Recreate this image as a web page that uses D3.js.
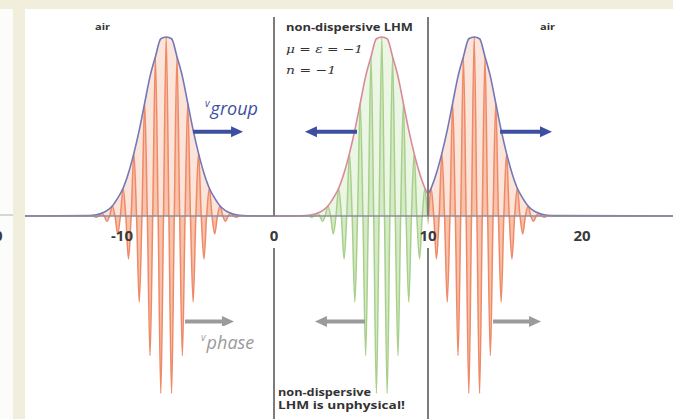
<!DOCTYPE html>
<html>
<head>
<meta charset="utf-8">
<script src="https://cdn.jsdelivr.net/npm/d3@7"></script>
<style>
  body { margin: 0; background: #f1eedb; }
  svg { display: block; }
</style>
</head>
<body>
<div id="vizContainer"></div>
<script>
let w = 673;
let h = 419;

// values
let tickValues = [-10, 0, 10, 20];
let packetCenters = [-7, 7, 13];
let packetRegions = [[-16.5, 0], [0, 10], [10, 26.5]];
let halfWave = 0.35; // distance between lobes, x units
// lobe height at 0, 1, 2 ... half-waves away from the packet centre
let lobeHeights = [1.00, 0.99, 0.89, 0.78, 0.63, 0.48, 0.35, 0.24, 0.155, 0.10, 0.056, 0.03, 0.015, 0.007, 0.003];
let boundaries = [0, 10];
let groupArrows = [[-5.26, -2.01], [5.39, 2.01], [14.68, 18.05]];
let groupLevel = 0.47;
let phaseArrows = [[-5.78, -2.6], [5.91, 2.66], [14.22, 17.34]];
let phaseLevel = -0.59;

// styles per packet
let waveStroke = ["#ef8a68", "#a8d08c", "#ef8a68"];
let waveFill = ["#f7c3ab", "#d5eac6", "#f7c3ab"];
let envStroke = ["#7478b8", "#d98a9a", "#7478b8"];

let viz = d3.select('#vizContainer').append('svg')
	.attr('width', w)
	.attr('height', h)
	;

// frame
viz.append('rect').attr('width', w).attr('height', h).attr('fill', '#f1eedb');
viz.append('rect').attr('x', 0).attr('y', 9).attr('width', 13).attr('height', h - 9).attr('fill', '#fcfcfb');
viz.append('rect').attr('x', 25).attr('y', 9).attr('width', w - 25).attr('height', h - 9).attr('fill', '#ffffff');
viz.append('line').attr('x1', 0).attr('x2', 13).attr('y1', 215).attr('y2', 215)
	.attr('stroke', '#c8c8d2').attr('stroke-width', 1.5);
// edge of the neighbouring panel's "0" label
viz.append('text').attr('x', -6).attr('y', 241).text('0')
	.attr('font-family', 'Open Sans').attr('font-weight', 'bold').attr('font-size', 15).attr('fill', '#3a3a3a');

let xScale = d3.scaleLinear().domain([-10, 20]).range([120, 582]);
let yScale = d3.scaleLinear().domain([-1, 1]).range([395, 37]);

let defs = viz.append('defs');
packetRegions.forEach(function(r, i){
	defs.append('clipPath').attr('id', 'clip' + i)
		.append('rect')
		.attr('x', Math.max(25, xScale(r[0])))
		.attr('y', 0)
		.attr('width', Math.min(w, xScale(r[1])) - Math.max(25, xScale(r[0])))
		.attr('height', h);
});

function wavePoints(c, r){
	let pts = [[r[0], 0]];
	let n = lobeHeights.length - 1;
	for (let k = -n; k <= n; k++){
		let a = lobeHeights[Math.abs(k)];
		let s = (Math.abs(k) % 2 == 0) ? 1 : -1;
		pts.push([c + (k - 0.5) * halfWave, 0]);
		pts.push([c + k * halfWave, s * a]);
	}
	pts.push([c + (n + 0.5) * halfWave, 0]);
	pts.push([r[1], 0]);
	return pts;
}

function envPoints(c, r){
	let pts = [[r[0], 0]];
	let n = lobeHeights.length - 1;
	for (let k = -n; k <= n; k++){
		pts.push([c + k * halfWave, lobeHeights[Math.abs(k)]]);
	}
	pts.push([r[1], 0]);
	return pts;
}

let line = d3.line()
	.x(function(d){ return xScale(d[0]) })
	.y(function(d){ return yScale(d[1]) })
	.curve(d3.curveMonotoneX);

let area = d3.area()
	.x(function(d){ return xScale(d[0]) })
	.y0(yScale(0))
	.y1(function(d){ return yScale(d[1]) })
	.curve(d3.curveMonotoneX);

let graphGroup = viz.append('g').attr('class', 'graphGroup');

packetCenters.forEach(function(c, i){
	let r = packetRegions[i];
	let g = graphGroup.append('g').attr('clip-path', 'url(#clip' + i + ')');
	let env = envPoints(c, r);
	let wave = wavePoints(c, r);
	g.append('path').datum(env).attr('d', area)
		.attr('fill', waveFill[i]).attr('opacity', 0.45);
	g.append('path').datum(wave).attr('d', area)
		.attr('fill', waveFill[i]);
	g.append('path').datum(wave).attr('d', line)
		.attr('fill', 'none').attr('stroke', waveStroke[i]).attr('stroke-width', 1.5);
	g.append('path').datum(env).attr('d', line)
		.attr('fill', 'none').attr('stroke', envStroke[i]).attr('stroke-width', 1.6);
});

// axis
viz.append('line')
	.attr('x1', 25).attr('x2', w)
	.attr('y1', yScale(0)).attr('y2', yScale(0))
	.attr('stroke', '#8d8c9c').attr('stroke-width', 1.6);

// boundaries of the slab
boundaries.forEach(function(b){
	viz.append('line')
		.attr('x1', xScale(b)).attr('x2', xScale(b))
		.attr('y1', 17).attr('y2', yScale(0))
		.attr('stroke', '#7c7c7c').attr('stroke-width', 2);
	viz.append('line')
		.attr('x1', xScale(b)).attr('x2', xScale(b))
		.attr('y1', 248).attr('y2', h)
		.attr('stroke', '#7c7c7c').attr('stroke-width', 2);
});

viz.selectAll('.tick').data(tickValues).enter().append('text')
	.attr('class', 'tick')
	.attr('x', function(d){ return xScale(d) + (d < 0 ? 2 : 0) })
	.attr('y', 241)
	.attr('text-anchor', 'middle')
	.attr('font-family', 'Open Sans')
	.attr('font-weight', 'bold')
	.attr('font-size', 15)
	.attr('fill', '#3a3a3a')
	.text(function(d){ return d });

function drawArrow(a, level, color){
	let x1 = xScale(a[0]);
	let x2 = xScale(a[1]);
	let y = yScale(level);
	let dir = x2 > x1 ? 1 : -1;
	let head = 12;
	viz.append('line')
		.attr('x1', x1).attr('x2', x2 - dir * head + dir)
		.attr('y1', y).attr('y2', y)
		.attr('stroke', color).attr('stroke-width', 4);
	viz.append('path')
		.attr('d', 'M' + x2 + ',' + y + 'L' + (x2 - dir * head) + ',' + (y - 5.5) + 'L' + (x2 - dir * head) + ',' + (y + 5.5) + 'Z')
		.attr('fill', color);
}
groupArrows.forEach(function(a){ drawArrow(a, groupLevel, '#3d4f9f') });
phaseArrows.forEach(function(a){ drawArrow(a, phaseLevel, '#9b9b9b') });

// velocity labels on white boxes
function velLabel(x, y, name, color){
	viz.append('rect').attr('x', x - 12).attr('y', y - 23).attr('width', 70).attr('height', 29).attr('fill', '#ffffff');
	let t = viz.append('text').attr('x', x).attr('y', y)
		.attr('font-family', 'Open Sans').attr('font-style', 'italic').attr('fill', color);
	t.append('tspan').attr('font-size', 10).attr('dy', -8).text('v');
	t.append('tspan').attr('font-size', 18).attr('dy', 8).attr('dx', 1).text(name);
}
velLabel(205, 115, 'group', '#3d4f9f');
velLabel(201, 349, 'phase', '#9b9b9b');

function smallText(x, y, s, len, opts){
	let t = viz.append('text').attr('x', x).attr('y', y).text(s)
		.attr('font-family', opts && opts.serif ? 'DejaVu Serif' : 'Open Sans')
		.attr('font-weight', opts && opts.serif ? 'normal' : 'bold')
		.attr('font-style', opts && opts.serif ? 'italic' : 'normal')
		.attr('font-size', opts && opts.size ? opts.size : 10)
		.attr('fill', '#333333');
	if (len) t.attr('textLength', len).attr('lengthAdjust', 'spacingAndGlyphs');
	return t;
}
smallText(95, 30, 'air', 15, {size: 9});
smallText(540, 30, 'air', 15, {size: 9});
smallText(286, 31, 'non-dispersive LHM', 127, {size: 10});
smallText(286, 53, 'μ = ε = −1', 77, {serif: true, size: 11});
smallText(286, 74, 'n = −1', 50, {serif: true, size: 11});
smallText(278, 396, 'non-dispersive', 93, {size: 10});
smallText(278, 409, 'LHM is unphysical!', 127, {size: 10});
</script>
</body>
</html>
